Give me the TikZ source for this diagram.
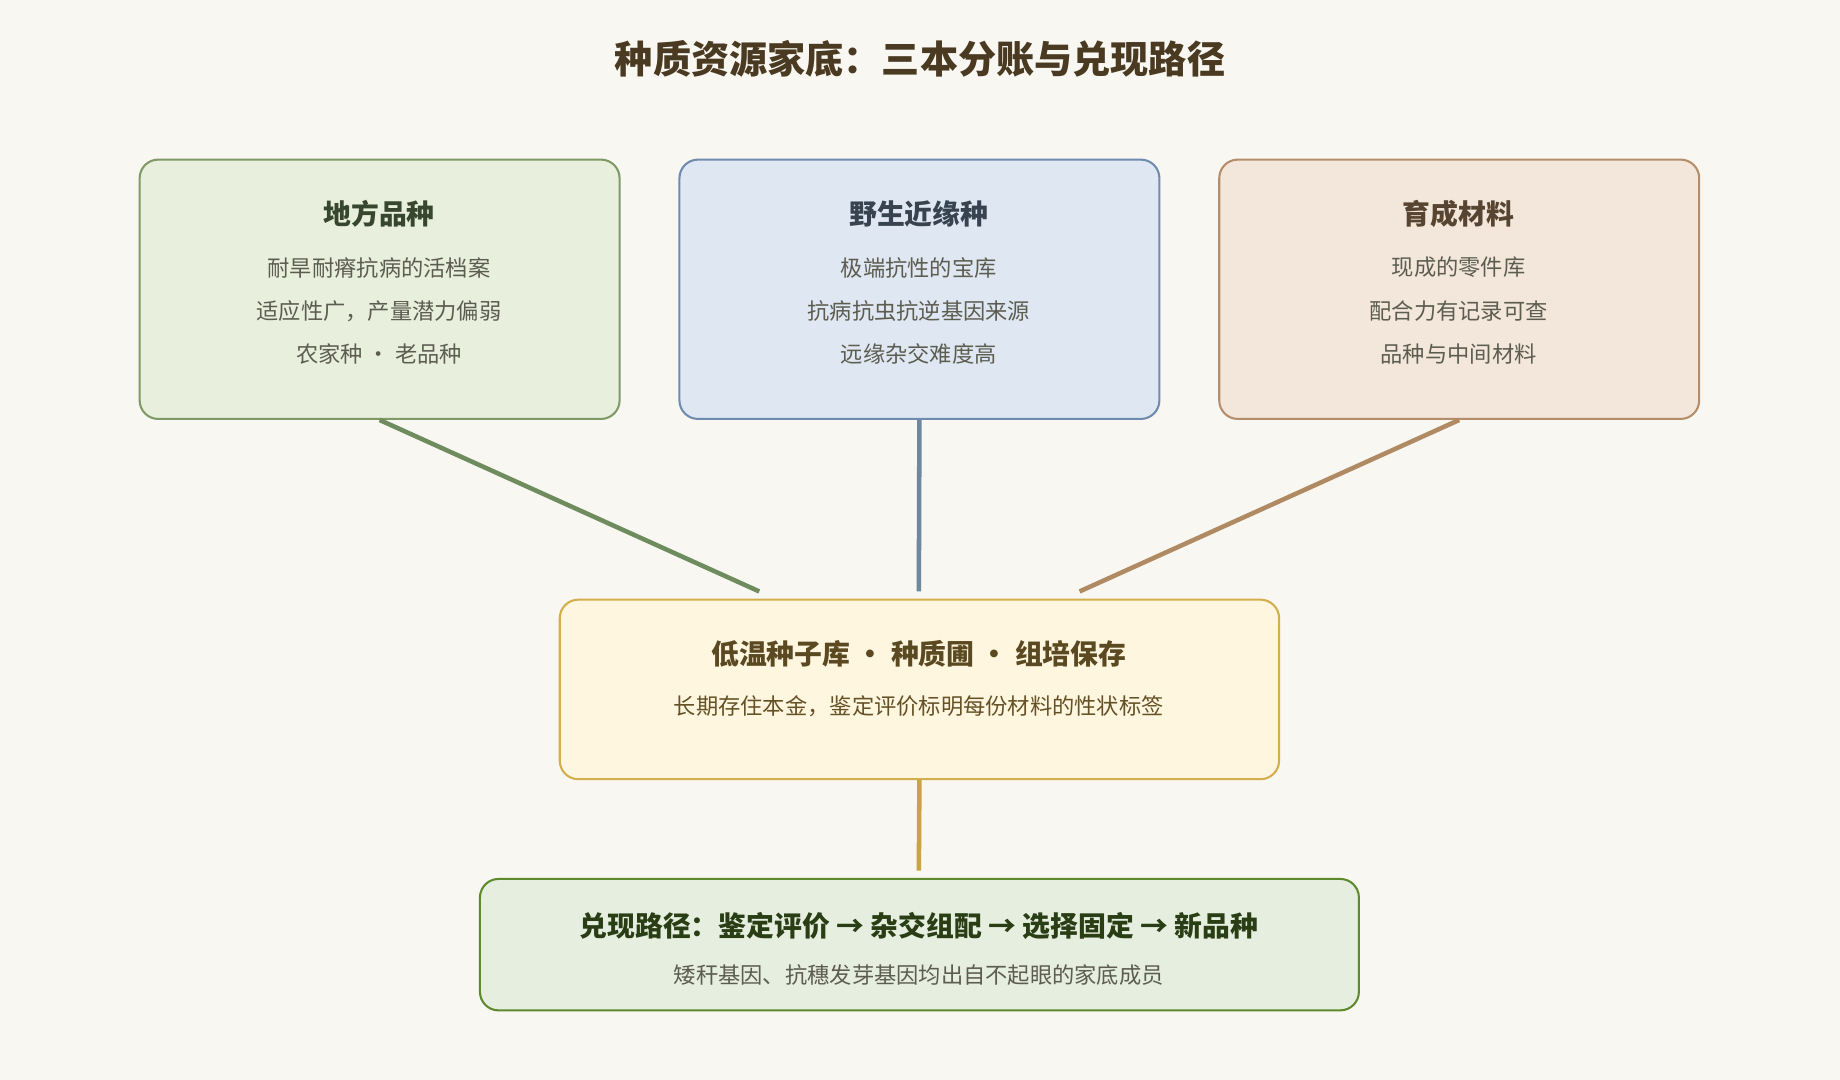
\documentclass[tikz,border=0pt]{standalone}
\usepackage{fontspec}
\setmainfont{Noto Sans CJK SC}
\definecolor{bg}{HTML}{F9F7F2}
\definecolor{titlec}{HTML}{4A3A22}
\definecolor{gfill}{HTML}{E8EFDD}\definecolor{gdraw}{HTML}{7F9A66}\definecolor{gline}{HTML}{6E8C5E}
\definecolor{bfill}{HTML}{DFE8F2}\definecolor{bdraw}{HTML}{6F8BAE}\definecolor{bline}{HTML}{6E88A0}
\definecolor{ofill}{HTML}{F3E6DA}\definecolor{odraw}{HTML}{B48D6A}\definecolor{oline}{HTML}{B08A62}
\definecolor{yfill}{HTML}{FFF6E0}\definecolor{ydraw}{HTML}{D4AE4C}\definecolor{yline}{HTML}{C9A24A}
\definecolor{dfill}{HTML}{E6EEDF}\definecolor{ddraw}{HTML}{5E8A2E}
\definecolor{txt}{HTML}{5C5C50}
\tikzset{
  box/.style={draw, rounded corners=9pt, line width=1pt, inner sep=0pt},
  head/.style={font=\fontsize{13.5}{16}\selectfont\bfseries},
  body/.style={font=\fontsize{10.8}{13}\selectfont, text=txt},
  link/.style={line width=2.2pt}
}
\begin{document}
\begin{tikzpicture}[x=0.02cm,y=-0.02cm]
	\fill[bg] (0,0) rectangle (1568,920);
	\node[font=\fontsize{18.5}{22}\selectfont\bfseries, text=titlec] (title) at (784,50) {种质资源家底：三本分账与兑现路径};
	
	% three ledgers
	\node[box, fill=gfill, draw=gdraw, minimum width=409*0.02cm, minimum height=221*0.02cm] (local) at (323.5,246.5) {};
	\node[box, fill=bfill, draw=bdraw, minimum width=409*0.02cm, minimum height=221*0.02cm] (wild) at (783.5,246.5) {};
	\node[box, fill=ofill, draw=odraw, minimum width=409*0.02cm, minimum height=221*0.02cm] (bred) at (1243.5,246.5) {};
	
	\node[head, text=gline!50!black] at (323,182) {地方品种};
	\node[body] at (323,228) {耐旱耐瘠抗病的活档案};
	\node[body] at (323,265) {适应性广，产量潜力偏弱};
	\node[body] at (323,302) {农家种 · 老品种};
	
	\node[head, text=bline!50!black] at (783,182) {野生近缘种};
	\node[body] at (783,228) {极端抗性的宝库};
	\node[body] at (783,265) {抗病抗虫抗逆基因来源};
	\node[body] at (783,302) {远缘杂交难度高};
	
	\node[head, text=oline!50!black] at (1243,182) {育成材料};
	\node[body] at (1243,228) {现成的零件库};
	\node[body] at (1243,265) {配合力有记录可查};
	\node[body] at (1243,302) {品种与中间材料};
	
	% bank
	\node[box, fill=yfill, draw=ydraw, minimum width=613*0.02cm, minimum height=153*0.02cm] (bank) at (783.5,587.5) {};
	\node[head, text=yline!45!black] at (783,557) {低温种子库 • 种质圃 • 组培保存};
	\node[body, text=yline!50!black] at (783,602) {长期存住本金，鉴定评价标明每份材料的性状标签};
	
	% path
	\node[box, fill=dfill, draw=ddraw, minimum width=749*0.02cm, minimum height=112*0.02cm] (path) at (783.5,805) {};
	\node[head, text=ddraw!45!black] at (783,789) {兑现路径：鉴定评价 → 杂交组配 → 选择固定 → 新品种};
	\node[body] at (783,831) {矮秆基因、抗穗发芽基因均出自不起眼的家底成员};
	
	% connectors
	\coordinate (inL) at (647,504);
	\coordinate (inM) at (783,504);
	\coordinate (inR) at (920,504);
	\coordinate (inP) at (783,742);
	\draw[link, gline] (local.south) -- (inL);
	\draw[link, bline] (wild.south) -- (inM);
	\draw[link, oline] (bred.south) -- (inR);
	\draw[link, yline] (bank.south) -- (inP);
\end{tikzpicture}
\end{document}
